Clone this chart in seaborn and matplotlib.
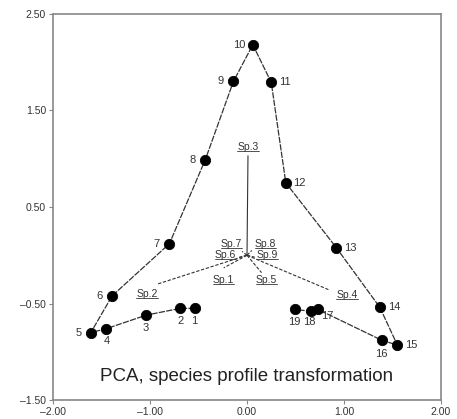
import matplotlib
matplotlib.use('Agg')
import matplotlib.pyplot as plt
import matplotlib.ticker as ticker
from matplotlib.lines import Line2D
import seaborn as sns
import pandas as pd

# sample scores (PCA axis 1, axis 2)
sample_ids = [str(i) for i in range(1, 20)]
pc1 = [-0.54, -0.69, -1.04, -1.45, -1.61, -1.39, -0.80, -0.43, -0.14, 0.06,
       0.25, 0.40, 0.92, 1.37, 1.55, 1.39, 0.73, 0.66, 0.49]
pc2 = [-0.55, -0.55, -0.62, -0.76, -0.80, -0.42, 0.12, 0.99, 1.80, 2.18,
       1.79, 0.75, 0.08, -0.54, -0.93, -0.88, -0.56, -0.58, -0.56]

# species arrows
species = ['Sp.1', 'Sp.2', 'Sp.3', 'Sp.4', 'Sp.5', 'Sp.6', 'Sp.7', 'Sp.8', 'Sp.9']
sp_x = [-0.24, -0.93, 0.01, 0.85, 0.15, -0.08, -0.05, 0.05, 0.08]
sp_y = [-0.13, -0.30, 1.03, -0.36, -0.18, -0.02, 0.04, 0.05, -0.02]
sp_lab_x = [-0.24, -1.03, 0.01, 1.03, 0.20, -0.22, -0.16, 0.19, 0.21]
sp_lab_y = [-0.26, -0.40, 1.12, -0.41, -0.26, 0.00, 0.12, 0.12, 0.00]

df = pd.DataFrame({'id': sample_ids, 'pc1': pc1, 'pc2': pc2})

sns.set_style('white')
plt.rcParams['font.family'] = ['Liberation Sans', 'DejaVu Sans']

fig = plt.figure(figsize=(4.57, 4.19), dpi=100)
ax = fig.add_axes([0.116, 0.045, 0.849, 0.922])

# species lines from origin
sp_texts = []
for i, sp in enumerate(species):
    ls = '-' if sp == 'Sp.3' else (0, (3, 1.5))
    ax.plot([0, sp_x[i]], [0, sp_y[i]], color='#333333', lw=0.8, ls=ls)
    t = ax.text(sp_lab_x[i], sp_lab_y[i], sp, ha='center', va='center',
                fontsize=7.5, color='#333333')
    sp_texts.append(t)

sns.lineplot(data=df, x='pc1', y='pc2', sort=False, color='#333333',
             lw=0.9, ls=(0, (5, 1)), ax=ax)
sns.scatterplot(data=df, x='pc1', y='pc2', color='black', s=55,
                edgecolor='black', zorder=3, ax=ax)

# offsets (points) for sample labels
offs = {'1': (0, -9), '2': (0, -9), '3': (0, -9), '4': (0, -9), '5': (-9, 0),
        '6': (-9, 0), '7': (-9, 0), '8': (-9, 0), '9': (-9, 0), '10': (-10, 0),
        '11': (10, 0), '12': (10, 0), '13': (10, 0), '14': (10, 0), '15': (10, 0),
        '16': (0, -10), '17': (7, -5), '18': (-1, -8), '19': (0, -9)}
for _, r in df.iterrows():
    dx, dy = offs[r['id']]
    ax.annotate(r['id'], (r['pc1'], r['pc2']), xytext=(dx, dy),
                textcoords='offset points', ha='center', va='center',
                fontsize=8, color='#333333')

ax.text(0.0, -1.25, 'PCA, species profile transformation', ha='center',
        va='center', fontsize=13.5, color='#222222')

fmt = ticker.FuncFormatter(lambda v, p: f'{v:.2f}'.replace('-', '\u2013'))
ax.set_xlim(-2, 2)
ax.set_ylim(-1.5, 2.5)
ax.set_xticks([-2, -1, 0, 1, 2])
ax.set_yticks([-1.5, -0.5, 0.5, 1.5, 2.5])
ax.xaxis.set_major_formatter(fmt)
ax.yaxis.set_major_formatter(fmt)
ax.set_xlabel('')
ax.set_ylabel('')
ax.tick_params(axis='both', length=3, width=0.8, color='#888888',
               labelsize=7.5, labelcolor='#333333', pad=2, direction='out',
               bottom=True, left=True)
for s in ax.spines.values():
    s.set_color('#888888')
    s.set_linewidth(1.2)

# underline the species names
fig.canvas.draw()
r = fig.canvas.get_renderer()
inv = fig.transFigure.inverted()
for t in sp_texts:
    bb = t.get_window_extent(r)
    (x0, y0), (x1, _) = inv.transform([(bb.x0, bb.y0 + 1), (bb.x1, bb.y0 + 1)])
    fig.add_artist(Line2D([x0, x1], [y0, y0], color='#333333', lw=0.6))

plt.savefig('out.png', dpi=100)
